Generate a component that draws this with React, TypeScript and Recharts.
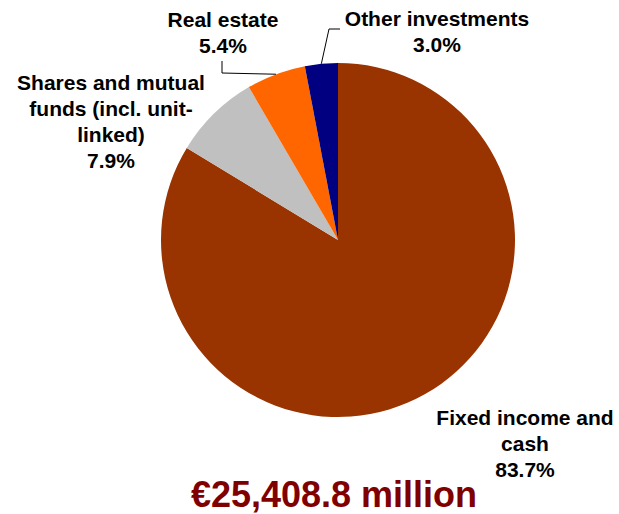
import { Cell, Pie, PieChart } from "recharts";

// category names, split the way the labels wrap in the picture
const categoryLines: string[][] = [
  ["Fixed income and", "cash"],
  ["Shares and mutual", "funds (incl. unit-", "linked)"],
  ["Real estate"],
  ["Other investments"],
];
const shares = [83.7, 7.9, 5.4, 3.0];
const colors = ["#993300", "#C0C0C0", "#FF6600", "#000080"];
const totalLabel = "€25,408.8 million";

const W = 619;
const H = 514;
const FONT = "'Liberation Sans', Arial, Helvetica, sans-serif";
const LINE_STEP = 26;

// where each label block sits (centre x, first baseline)
const LABEL_POS = [
  { x: 525, y: 425 },
  { x: 111, y: 90 },
  { x: 223, y: 27 },
  { x: 437, y: 26 },
];

// elbow points of the leader lines, from the label towards the slice
const LEADER_ELBOWS: Record<number, { x: number; y: number }[]> = {
  2: [
    { x: 222, y: 61 },
    { x: 222, y: 73 },
  ],
  3: [
    { x: 340, y: 29 },
    { x: 329, y: 29 },
  ],
};

const rows = categoryLines.map((lines, i) => ({
  name: lines.join(" "),
  lines,
  value: shares[i],
}));

const RAD = Math.PI / 180;

function SliceLabel(props: any) {
  const { cx, cy, outerRadius, midAngle, index } = props;
  const pos = LABEL_POS[index];
  const row = rows[index];
  const lines = [...row.lines, `${row.value.toFixed(1)}%`];
  const elbows = LEADER_ELBOWS[index];
  let leader = null;
  if (elbows) {
    const ex = cx + outerRadius * Math.cos(-midAngle * RAD);
    const ey = cy + outerRadius * Math.sin(-midAngle * RAD);
    const pts = [...elbows, { x: ex, y: ey }]
      .map((p) => `${p.x},${p.y}`)
      .join(" ");
    leader = <polyline points={pts} fill="none" stroke="#000" strokeWidth={1} />;
  }
  return (
    <g>
      {leader}
      <text
        x={pos.x}
        y={pos.y}
        textAnchor="middle"
        fontFamily={FONT}
        fontSize={21}
        fontWeight="bold"
        fill="#000"
      >
        {lines.map((l, i) => (
          <tspan key={i} x={pos.x} y={pos.y + i * LINE_STEP}>
            {l}
          </tspan>
        ))}
      </text>
    </g>
  );
}

export default function App() {
  return (
    <div
      style={{
        position: "absolute",
        left: 0,
        top: 0,
        width: W,
        height: H,
        background: "#fff",
      }}
    >
      <PieChart width={W} height={H} margin={{ top: 0, right: 0, bottom: 0, left: 0 }}>
        <Pie
          data={rows}
          dataKey="value"
          nameKey="name"
          cx={338}
          cy={240}
          outerRadius={177}
          startAngle={90}
          endAngle={-270}
          stroke="none"
          label={SliceLabel}
          labelLine={false}
          isAnimationActive={false}
        >
          {rows.map((r, i) => (
            <Cell key={r.name} fill={colors[i]} />
          ))}
        </Pie>
      </PieChart>
      <svg
        width={W}
        height={H}
        style={{ position: "absolute", left: 0, top: 0, pointerEvents: "none" }}
      >
        <text
          x={334}
          y={507}
          textAnchor="middle"
          fontFamily={FONT}
          fontSize={36}
          fontWeight="bold"
          fill="#800000"
        >
          {totalLabel}
        </text>
      </svg>
    </div>
  );
}
